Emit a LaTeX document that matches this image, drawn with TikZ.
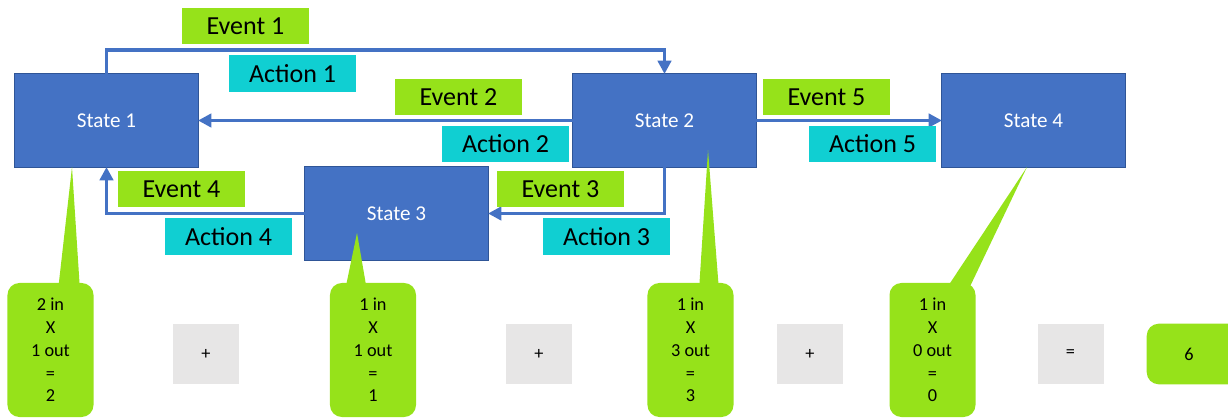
\documentclass[tikz,border=0pt]{standalone}
\usepackage{fontspec}
\setmainfont{Carlito}
\usetikzlibrary{arrows.meta,calc,backgrounds}
\definecolor{stateblue}{HTML}{4472C4}
\definecolor{stateedge}{HTML}{2F5597}
\definecolor{evgreen}{HTML}{96E21A}
\definecolor{accyan}{HTML}{10CFD2}
\definecolor{opgray}{HTML}{E7E6E6}

\begin{document}
\begin{tikzpicture}[x=0.025cm,y=-0.025cm,
  state/.style={fill=stateblue,draw=stateedge,line width=0.7pt,minimum width=4.575cm,minimum height=2.325cm,inner sep=0pt,outer sep=0pt,text=white,font=\fontsize{15}{17}\selectfont},
  event/.style={fill=evgreen,minimum width=3.175cm,minimum height=0.9cm,inner sep=0pt,font=\fontsize{18.5}{21}\selectfont},
  action/.style={event,fill=accyan},
  flow/.style={draw=stateblue,line width=2.5pt,-{Triangle[length=9.5pt,width=9.5pt]}},
  count/.style={fill=evgreen,rounded corners=8.5pt,minimum width=2.15cm,minimum height=3.35cm,inner sep=0pt,align=center,font=\fontsize{13}{16.2}\selectfont},
  op/.style={fill=opgray,minimum width=1.65cm,minimum height=1.5cm,inner sep=0pt,font=\fontsize{13}{15}\selectfont},
  total/.style={minimum width=2.1cm,minimum height=1.5cm,inner sep=0pt,font=\fontsize{13}{15}\selectfont},
  pointer/.style={fill=evgreen}]
\clip (0,0) rectangle (1228,418);

% States
\node[state] (s1) at (106.5,120.5) {State 1};
\node[state] (s2) at (664.5,120.5) {State 2};
\node[state] (s3) at (396.5,213.5) {State 3};
\node[state] (s4) at (1033.5,120.5) {State 4};

% Transitions
\coordinate (top) at (0,50);
\draw[flow] (s1.north) -- (s1.north |- top) -| (s2.north);
\draw[flow] (s2.west) -- (s1.east);
\draw[flow] (s2.east) -- (s4.west);
\draw[flow] (s2.south) |- (s3.east);
\draw[flow] (s3.west) -| (s1.south);

% Events and actions
\node[event]  (e1) at (245.5,26)  {Event 1};
\node[action] (a1) at (292.5,73.5) {Action 1};
\node[event]  (e2) at (458.5,97)  {Event 2};
\node[action] (a2) at (505.5,144) {Action 2};
\node[event]  (e3) at (560.5,189) {Event 3};
\node[action] (a3) at (606.5,236.5) {Action 3};
\node[event]  (e4) at (181.5,189) {Event 4};
\node[action] (a4) at (228.5,236.5) {Action 4};
\node[event]  (e5) at (826.5,97)  {Event 5};
\node[action] (a5) at (872.5,144) {Action 5};

% Counts per state
\node[count] (c1) at (50.5,350) {2 in\\X\\1 out\\=\\2};
\node[count] (c2) at (373,350)  {1 in\\X\\1 out\\=\\1};
\node[count] (c3) at (690.5,350) {1 in\\X\\3 out\\=\\3};
\node[count] (c4) at (932.5,350) {1 in\\X\\0 out\\=\\0};

\coordinate (p1) at (72,167);
\coordinate (p2) at (357,233);
\coordinate (p3) at (708,150);
\coordinate (p4) at (1027,167);
\fill[pointer] (p1) -- ($(c1.north)+(7.5,8)$) -- ($(c1.north)+(29.5,8)$) -- cycle;
\fill[pointer] (p2) -- ($(c2.north)+(-28,8)$) -- ($(c2.north)+(-6,8)$) -- cycle;
\fill[pointer] (p3) -- ($(c3.north)+(8.5,8)$) -- ($(c3.north)+(28.5,8)$) -- cycle;
\fill[pointer] (p4) -- ($(c4.north)+(12.5,8)$) -- ($(c4.north)+(35.5,8)$) -- cycle;

% Sum
\node[op] (plus1) at (206,354)  {+};
\node[op] (plus2) at (539,354)  {+};
\node[op] (plus3) at (810,354)  {+};
\node[op] (eq)    at (1070.5,354) {=};
\node[total] (sum) at (1189,354) {6};
\begin{scope}[on background layer]
  \fill[evgreen,rounded corners=8.5pt] (sum.north west) rectangle ($(sum.south east)+(30,0)$);
\end{scope}
\end{tikzpicture}
\end{document}
